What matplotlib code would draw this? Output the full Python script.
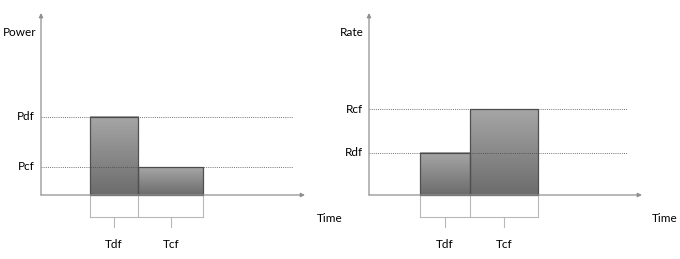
import numpy as np
import matplotlib
matplotlib.use("Agg")
import matplotlib.pyplot as plt
from matplotlib.colors import LinearSegmentedColormap

plt.rcParams['font.family'] = ['Lato', 'DejaVu Sans']

# data
phases = ["Tdf", "Tcf"]
start = 1.0
durations = [1.0, 1.35]
power_labels = ["Pdf", "Pcf"]
power_values = [2.8, 1.0]
rate_labels = ["Rdf", "Rcf"]
rate_values = [1.0, 2.02]

fig = plt.figure(figsize=(6.8, 2.59), dpi=100)
cmap = LinearSegmentedColormap.from_list("g", ["#6c6c6c", "#a6a6a6"])
FS = 8.5

def panel(ax, ylabel, levels, level_labels, bar_values, xlim, ylim, pxx, pxy,
          ylabel_x, dot_end, arrow_x, arrow_y, time_x):
    ax.set_xlim(*xlim)
    ax.set_ylim(*ylim)
    ax.axis("off")
    # dotted reference lines
    for v, lab in zip(levels, level_labels):
        ax.plot([0, dot_end], [v, v], color="#444444", lw=0.7, ls=(0, (1, 1.2)),
                alpha=0.75, zorder=4)
        ax.text(-6 / pxx, v, lab, ha="right", va="center", fontsize=FS)
    # bars with gradient
    x0 = start
    edges = [x0]
    for d, v in zip(durations, bar_values):
        grad = np.linspace(0, 1, 100).reshape(-1, 1)
        ax.imshow(grad, extent=[x0, x0 + d, 0, v], origin="lower", cmap=cmap,
                  aspect="auto", zorder=2)
        ax.add_patch(plt.Rectangle((x0, 0), d, v, fill=False, ec="#505050", lw=0.9, zorder=3))
        x0 += d
        edges.append(x0)
    ax.set_xlim(*xlim)
    ax.set_ylim(*ylim)
    # axes with arrows
    ax.annotate("", xy=(arrow_x, 0), xytext=(0, 0),
                arrowprops=dict(arrowstyle="-|>", color="#909090", lw=0.9,
                                mutation_scale=6, shrinkA=0, shrinkB=0), zorder=5)
    ax.annotate("", xy=(0, arrow_y), xytext=(0, 0),
                arrowprops=dict(arrowstyle="-|>", color="#909090", lw=0.9,
                                mutation_scale=6, shrinkA=0, shrinkB=0), zorder=5)
    ax.text(ylabel_x, 163 / pxy, ylabel, ha="center", va="center", fontsize=FS)
    ax.text(time_x, -23 / pxy, "Time", ha="left", va="center", fontsize=FS)
    # brackets
    yb = -22 / pxy
    yt = -32 / pxy
    for e in edges:
        ax.plot([e, e], [0, yb], color="#b8b8b8", lw=0.8, clip_on=False)
    for i, name in enumerate(phases):
        a, b = edges[i], edges[i + 1]
        c = (a + b) / 2
        ax.plot([a, b], [yb, yb], color="#b8b8b8", lw=0.8, clip_on=False)
        ax.plot([c, c], [yb, yt], color="#b8b8b8", lw=0.8, clip_on=False)
        ax.text(c, -50 / pxy, name, ha="center", va="center", fontsize=FS)

# left panel
pxx, pxy = 48.5, 28.0
axL = fig.add_axes([0, 0, 0.5, 1])
panel(axL, "Power", power_values, power_labels, power_values,
      (-41 / pxx, 299 / pxx), (-64 / pxy, 195 / pxy), pxx, pxy,
      -21 / pxx, 252 / pxx, 264 / pxx, 182 / pxy, 276 / pxx)

# right panel
pxx, pxy = 50.5, 42.5
axR = fig.add_axes([0.5, 0, 0.5, 1])
panel(axR, "Rate", rate_values, rate_labels, rate_values,
      (-29 / pxx, 311 / pxx), (-64 / pxy, 195 / pxy), pxx, pxy,
      -17 / pxx, 258 / pxx, 273 / pxx, 182 / pxy, 283 / pxx)

fig.savefig("out.png", dpi=100)
